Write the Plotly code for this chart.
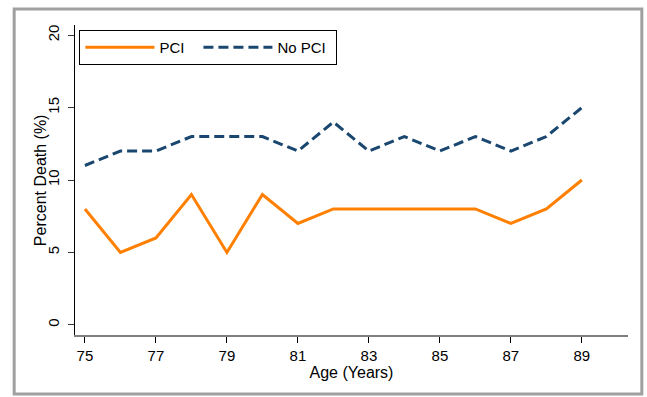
import plotly.graph_objects as go

ages = list(range(75, 90))
pci = [8, 5, 6, 9, 5, 9, 7, 8, 8, 8, 8, 8, 7, 8, 10]
no_pci = [11, 12, 12, 13, 13, 13, 12, 14, 12, 13, 12, 13, 12, 13, 15]
x_ticks = [75, 77, 79, 81, 83, 85, 87, 89]
y_ticks = [0, 5, 10, 15, 20]

FONT = "Liberation Sans, Arial, Helvetica, sans-serif"

fig = go.Figure()
fig.add_trace(go.Scatter(x=ages, y=pci, mode="lines", name="PCI", legendwidth=34,
                         line=dict(color="#FF8000", width=3)))
fig.add_trace(go.Scatter(x=ages, y=no_pci, mode="lines", name="No PCI", legendwidth=54,
                         line=dict(color="#1A476F", width=3, dash="10px,5px")))

fig.update_layout(
    width=647, height=397,
    margin=dict(l=75, r=19, t=25, b=62),
    paper_bgcolor="white", plot_bgcolor="white",
    font=dict(family=FONT, size=15, color="black"),
    showlegend=True,
    legend=dict(orientation="h", x=0.008, y=0.984, xanchor="left", yanchor="top",
                bordercolor="black", borderwidth=1, bgcolor="white",
                font=dict(size=15), itemwidth=69,
                tracegroupgap=0),
    xaxis=dict(range=[74.72, 90.3], tickvals=x_ticks, showgrid=False, zeroline=False,
               showline=True, linecolor="#808080", linewidth=2,
               ticks="outside", ticklen=6, tickcolor="black", tickwidth=1,
               title=dict(text="Age (Years)", standoff=0, font=dict(size=16)),
               tickfont=dict(size=15)),
    yaxis=dict(range=[-0.7, 20.7], tickvals=y_ticks, showgrid=False, zeroline=False,
               showline=True, linecolor="black", linewidth=1,
               ticks="outside", ticklen=6, tickcolor="#333333", tickwidth=1,
               tickangle=-90, ticklabelstandoff=3,
               tickfont=dict(size=15)),
    annotations=[dict(text="Percent Death (%)", textangle=-90, showarrow=False,
                      xref="paper", yref="paper", x=-0.063, y=0.5,
                      xanchor="center", yanchor="middle", font=dict(size=16))],
    shapes=[dict(type="rect", xref="paper", yref="paper",
                 x0=-0.110, x1=1.025, y0=-0.190, y1=1.052,
                 line=dict(color="#A0A0A0", width=3), layer="below")],
)

fig.write_html("out.html", config={"displayModeBar": False},
               post_script="document.body.style.margin='0px';")
